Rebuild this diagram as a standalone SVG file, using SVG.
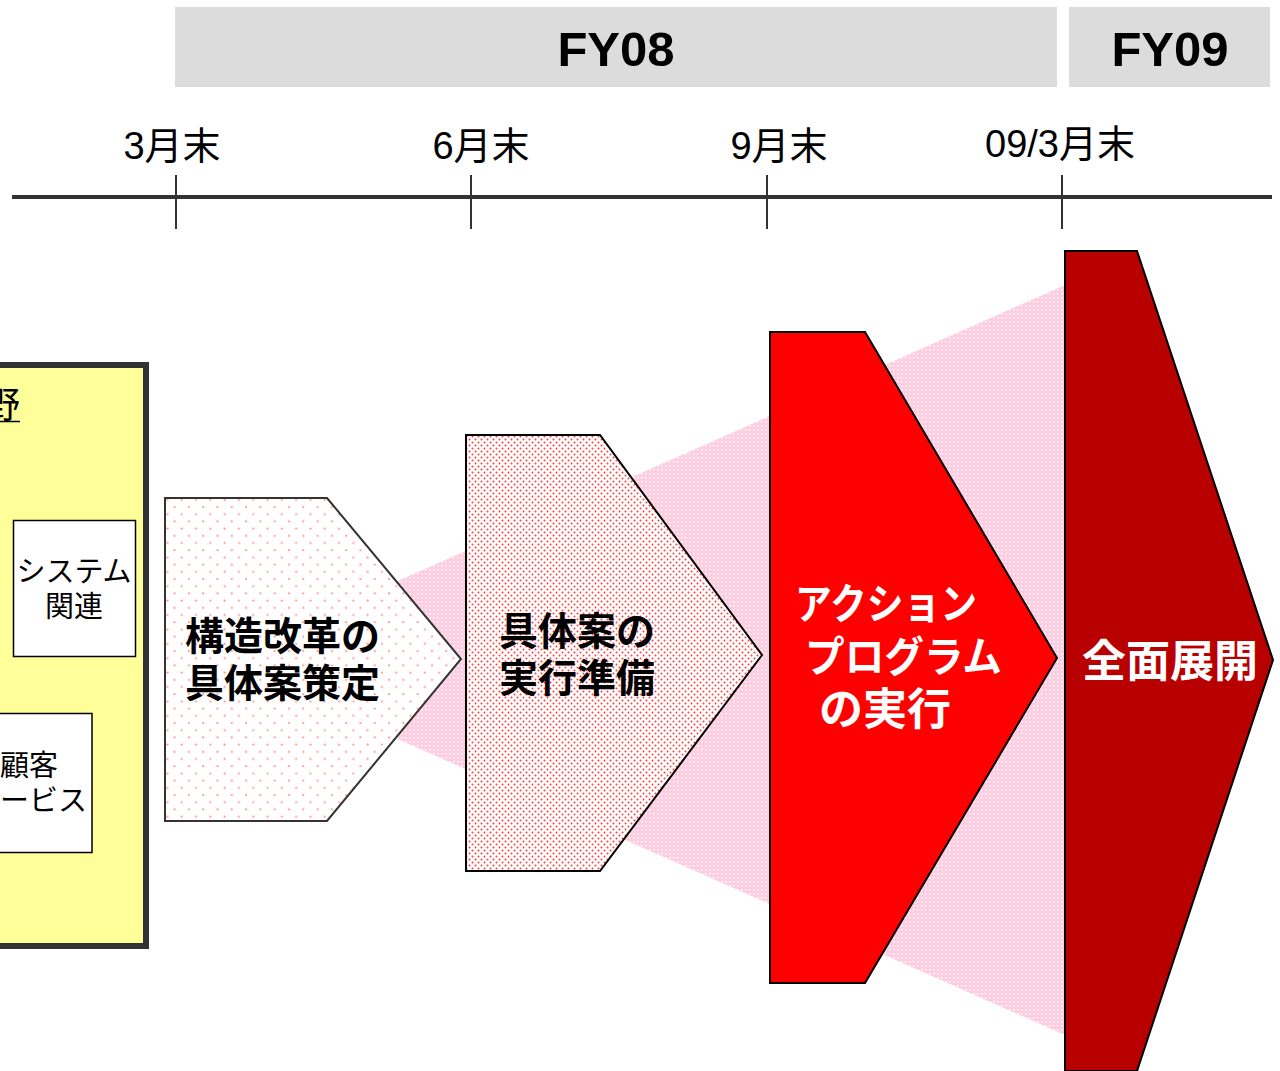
<svg xmlns="http://www.w3.org/2000/svg" width="1280" height="1071" viewBox="0 0 1280 1071">
<defs>
<pattern id="dotsSparse" width="14.3" height="14.4" patternUnits="userSpaceOnUse">
<rect width="14.3" height="14.4" fill="#ffffff"/>
<circle cx="3" cy="3" r="1.1" fill="#ff9a9a"/>
<circle cx="10.15" cy="10.2" r="1.1" fill="#ff9a9a"/>
</pattern>
<pattern id="dotsDense" width="6" height="6" patternUnits="userSpaceOnUse">
<rect width="6" height="6" fill="#ffffff"/>
<circle cx="1.5" cy="1.5" r="1" fill="#ff3b3b"/>
<circle cx="4.5" cy="4.5" r="1" fill="#ff3b3b"/>
</pattern>
<pattern id="funnelPat" width="4" height="4" patternUnits="userSpaceOnUse">
<rect width="4" height="4" fill="#ffcde0"/>
<rect x="1" y="1" width="1.5" height="1.5" fill="#ffffff"/>
</pattern>
</defs>
<style>
.hdr{fill:#dcdcdc}
.hdrTxt{font-family:"Liberation Sans","Noto Sans CJK JP",sans-serif;font-weight:bold;font-size:49px;fill:#000;text-anchor:middle}
.tl{font-family:"Liberation Sans","Noto Sans CJK JP",sans-serif;font-size:38px;fill:#000;text-anchor:middle}
.tick{stroke:#333;stroke-width:2}
.jp{font-family:"Noto Sans CJK JP","Liberation Sans",sans-serif}
.box{fill:#fff;stroke:#000;stroke-width:1.5}
.boxTxt{font-size:29px;fill:#000;text-anchor:middle}
.bk{font-weight:bold;font-size:39px;fill:#000}
.wt{font-weight:bold;fill:#fff}
</style>
<rect width="1280" height="1071" fill="#ffffff"/>

<g id="header">
<rect class="hdr" x="175" y="7" width="882" height="80"/>
<text class="hdrTxt" x="616" y="66">FY08</text>
<rect class="hdr" x="1069" y="7" width="201" height="80"/>
<text class="hdrTxt" x="1170" y="66">FY09</text>
</g>

<g id="timeline">
<line x1="12" y1="197" x2="1272" y2="197" stroke="#333" stroke-width="4"/>
<line class="tick" x1="176" y1="175" x2="176" y2="229"/>
<line class="tick" x1="471" y1="175" x2="471" y2="229"/>
<line class="tick" x1="767" y1="175" x2="767" y2="229"/>
<line class="tick" x1="1062" y1="175" x2="1062" y2="229"/>
<text class="tl" x="172" y="159">3月末</text>
<text class="tl" x="481" y="159">6月末</text>
<text class="tl" x="779" y="159">9月末</text>
<text class="tl" x="1060" y="157">09/3月末</text>
</g>

<g id="scope">
<rect x="-10" y="365" width="156" height="581" fill="#ffff99" stroke="#333" stroke-width="6"/>
<text class="jp" x="20" y="418" font-size="36" text-anchor="end" fill="#000">分野</text>
<line x1="0" y1="421.5" x2="20" y2="421.5" stroke="#000" stroke-width="1.5"/>
</g>

<g id="system">
<rect class="box" x="13.5" y="520.5" width="122" height="136"/>
<text class="jp boxTxt" x="74" y="582">システム</text>
<text class="jp boxTxt" x="74" y="617">関連</text>
</g>

<g id="customer">
<rect class="box" x="-5" y="713.5" width="97" height="139"/>
<text class="jp boxTxt" x="29" y="776">顧客</text>
<text class="jp boxTxt" x="29" y="811">サービス</text>
</g>

<g id="connectors">
<polygon points="330,611 1065,285 1065,1035 330,709" fill="url(#funnelPat)"/>
</g>

<g id="step1">
<polygon points="165,498 327,498 461,659 327,821 165,821" fill="url(#dotsSparse)" stroke="#333" stroke-width="2"/>
<text class="jp bk" x="185" y="650">構造改革の</text>
<text class="jp bk" x="185" y="697">具体案策定</text>
</g>

<g id="step2">
<polygon points="466,435 600,435 762,655 600,871 466,871" fill="url(#dotsDense)" stroke="#000" stroke-width="2"/>
<text class="jp bk" x="499" y="645">具体案の</text>
<text class="jp bk" x="499" y="692">実行準備</text>
</g>

<g id="step3">
<polygon points="770,332 865,332 1057,658 865,983 770,983" fill="#ff0000" stroke="#000" stroke-width="2"/>
<text class="jp wt" x="795" y="619" font-size="42" textLength="182" lengthAdjust="spacingAndGlyphs">アクション</text>
<text class="jp wt" x="805" y="672" font-size="42" textLength="197" lengthAdjust="spacingAndGlyphs">プログラム</text>
<text class="jp wt" x="819" y="725" font-size="44">の実行</text>
</g>

<g id="step4">
<polygon points="1065,251 1137,251 1273,660 1137,1071 1065,1071" fill="#b80000" stroke="#000" stroke-width="2"/>
<text class="jp wt" x="1170" y="677" font-size="44" text-anchor="middle">全面展開</text>
</g>

<g id="page">
<text x="1250" y="1088" font-family="Liberation Sans, sans-serif" font-size="24" text-anchor="middle" fill="#000">15</text>
</g>
</svg>
